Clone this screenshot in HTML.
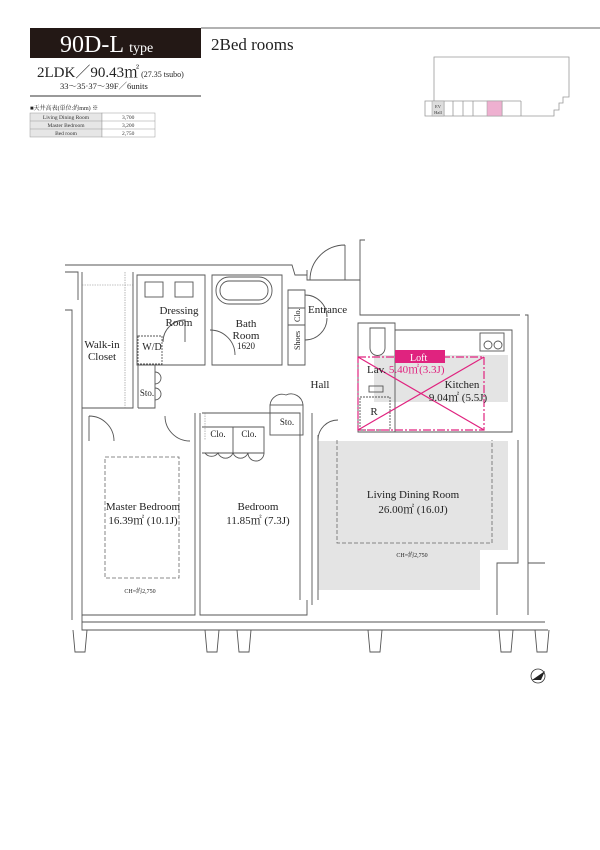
<!DOCTYPE html>
<html><head><meta charset="utf-8"><style>
body{margin:0;background:#fff;}
svg{display:block;font-family:"Liberation Serif","Noto Serif CJK SC",serif;}
</style></head><body>
<svg width="600" height="850" viewBox="0 0 600 850" xmlns="http://www.w3.org/2000/svg">
<!-- header -->
<rect x="30" y="28" width="171" height="30" fill="#231815"/>
<text x="60" y="52" font-size="24" fill="#fff">90D-L <tspan font-size="14">type</tspan></text>
<line x1="201" y1="28" x2="600" y2="28" stroke="#666" stroke-width="1"/>
<text x="211" y="50" font-size="17" fill="#222">2Bed rooms</text>
<text x="37" y="77" font-size="15" fill="#222">2LDK／90.43㎡<tspan font-size="8"> (27.35 tsubo)</tspan></text>
<text x="60" y="89" font-size="8.5" fill="#222">33〜35·37〜39F／6units</text>
<line x1="30" y1="96" x2="201" y2="96" stroke="#333" stroke-width="1"/>
<text x="30" y="110" font-size="6" fill="#222">■天井高表(単位:約mm) ※</text>
<g font-size="5.5" fill="#333" stroke-width="0.5">
<rect x="30" y="113" width="72" height="24" fill="#e6e6e6" stroke="#999"/>
<rect x="102" y="113" width="53" height="24" fill="#fff" stroke="#999"/>
<line x1="30" y1="121" x2="155" y2="121" stroke="#999"/>
<line x1="30" y1="129" x2="155" y2="129" stroke="#999"/>
<text x="66" y="119" text-anchor="middle">Living Dining Room</text>
<text x="66" y="127" text-anchor="middle">Master Bedroom</text>
<text x="66" y="135" text-anchor="middle">Bed room</text>
<text x="122" y="119">3,700</text><text x="122" y="127">3,200</text><text x="122" y="135">2,750</text>
</g>
<!-- keyplan -->
<g stroke="#999" stroke-width="0.8" fill="none">
<path d="M434 57 H569 V97 H563 V103 H559 V110 H554 V116 H425 V101 H434 Z"/>
<line x1="434" y1="101" x2="521" y2="101"/><line x1="521" y1="101" x2="521" y2="116"/>
<line x1="444" y1="101" x2="444" y2="116"/><line x1="453" y1="101" x2="453" y2="116"/><line x1="463" y1="101" x2="463" y2="116"/><line x1="473" y1="101" x2="473" y2="116"/><line x1="502" y1="101" x2="502" y2="116"/>
</g>
<rect x="432" y="101" width="12" height="15" fill="#ddd" stroke="#999" stroke-width="0.5"/>
<text x="438" y="108" font-size="4.5" text-anchor="middle" fill="#333">EV</text>
<text x="438" y="114" font-size="4.5" text-anchor="middle" fill="#333">Hall</text>
<rect x="487" y="101" width="15" height="15" fill="#eeb0d0" stroke="#999" stroke-width="0.5"/>

<!-- floor plan -->
<rect x="318" y="441" width="190" height="109" fill="#e4e4e4"/>
<rect x="318" y="550" width="162" height="40" fill="#e4e4e4"/>
<rect x="374" y="355" width="134" height="47" fill="#e4e4e4"/>
<g stroke="#555" stroke-width="0.9" fill="none">
<!-- outer walls -->
<path d="M65 265 H292 L295 275 H307"/>
<path d="M65 272 H78 V300 M65 310 H72 V620"/>
<path d="M82 272 V615 H195 V413 M200 413 V615 H307 V600"/>
<path d="M133 272 V408 H82"/>
<path d="M137 275 H205 V365 H137 Z"/>
<path d="M212 275 H282 V365 H212 Z"/>
<rect x="216" y="277" width="56" height="27" rx="13"/>
<rect x="220" y="281" width="48" height="19" rx="9"/>
<rect x="145" y="282" width="18" height="15"/><rect x="175" y="282" width="18" height="15"/>
<rect x="138" y="336" width="24" height="28" stroke-dasharray="2 1"/>
<path d="M138 365 V408 M138 365 H155 V408 H138"/>
<path d="M288 290 H305 V365 H288 Z M288 308 H305 M288 325 H305"/>
<path d="M307 270 V280 H360 V240 H365"/>
<path d="M360 280 V315 H520 M525 315 H528 V615"/>
<path d="M358 323 H395 V432 H358 Z"/>
<path d="M395 330 H512 V432 H395"/>
<rect x="480" y="333" width="24" height="18"/>
<circle cx="488" cy="345" r="4"/><circle cx="498" cy="345" r="4"/>
<path d="M370 328 h15 v20 a7 7 0 0 1 -15 0 z"/>
<rect x="369" y="386" width="14" height="6"/>
<rect x="360" y="397" width="30" height="33" stroke-dasharray="2 1"/>
<rect x="270" y="405" width="33" height="30"/>
<path d="M202 413 H300 V600"/>
<path d="M202 427 H264 V453 H202 M233 427 V453"/>
<path d="M312 413 V605 M318 435 V600"/>
<path d="M82 615 V630 H548 M82 622 H545"/>
<path d="M73 630 L75 652 H85 L87 630 M205 630 L207 652 H217 L219 630 M237 630 L239 652 H249 L251 630 M368 630 L370 652 H380 L382 630 M499 630 L501 652 H511 L513 630 M535 630 L537 652 H547 L549 630"/>
<path d="M497 615 V563 H518 V440 M545 563 H528"/>
<!-- door arcs -->
<path d="M310 280 A35 35 0 0 1 345 245 M345 245 V280"/>
<path d="M89 416 A25 25 0 0 1 114 441 M89 416 V441"/>
<path d="M165 416 A25 25 0 0 0 190 441"/>
<path d="M163 342 A22 22 0 0 1 185 320 V342"/>
<path d="M210 330 A25 25 0 0 1 235 355"/>
<path d="M305 295 A22 22 0 0 1 327 317 M305 340 A22 22 0 0 0 327 318"/>
<path d="M270 405 A12 12 0 0 1 286 395 A12 12 0 0 1 303 405"/>
<path d="M205 453 A8 8 0 0 0 218 453 A8 8 0 0 0 233 453 A8 8 0 0 0 248 453 A8 8 0 0 0 264 453"/>
<path d="M318 440 A20 20 0 0 1 338 420"/>
<path d="M155 372 a6 6 0 0 1 0 12 M155 388 a6 6 0 0 1 0 12"/>
</g>
<g stroke="#666" stroke-width="0.8" fill="none" stroke-dasharray="4 2">
<rect x="105" y="457" width="74" height="121"/>
<path d="M337 440 V543 H492 V440"/>
</g>
<g stroke="#888" stroke-width="0.6" fill="none" stroke-dasharray="1.5 1">
<path d="M125 272 V408 M82 285 H133 M205 413 V440"/>
</g>
<!-- loft -->
<g stroke="#e0237f" stroke-width="1.2" fill="none">
<rect x="358" y="357" width="126" height="73" stroke-dasharray="8 2 2 2"/>
<line x1="358" y1="357" x2="484" y2="430"/><line x1="484" y1="357" x2="358" y2="430"/>
</g>
<rect x="395" y="350" width="50" height="13" fill="#e0237f"/>
<g font-size="11" fill="#222">
<text x="410" y="361" fill="#fff" font-size="10">Loft</text>
<text x="179" y="314" text-anchor="middle">Dressing</text>
<text x="179" y="326" text-anchor="middle">Room</text>
<text x="152" y="350" text-anchor="middle" font-size="10">W/D</text>
<text x="246" y="327" text-anchor="middle">Bath</text>
<text x="246" y="339" text-anchor="middle">Room</text>
<text x="246" y="349" text-anchor="middle" font-size="9">1620</text>
<text x="102" y="348" text-anchor="middle">Walk-in</text>
<text x="102" y="360" text-anchor="middle">Closet</text>
<text x="147" y="396" text-anchor="middle" font-size="9">Sto.</text>
<text x="287" y="425" text-anchor="middle" font-size="9">Sto.</text>
<text x="218" y="437" text-anchor="middle" font-size="9">Clo.</text>
<text x="249" y="437" text-anchor="middle" font-size="9">Clo.</text>
<text x="308" y="313">Entrance</text>
<text x="300" y="350" font-size="8" transform="rotate(-90 300 350)">Shoes</text>
<text x="300" y="322" font-size="8" transform="rotate(-90 300 322)">Clo.</text>
<text x="320" y="388" text-anchor="middle">Hall</text>
<text x="367" y="373">Lav. <tspan fill="#e0237f">5.40㎡(3.3J)</tspan></text>
<text x="462" y="388" text-anchor="middle">Kitchen</text>
<text x="458" y="401" text-anchor="middle">9.04㎡ (5.5J)</text>
<text x="374" y="415" text-anchor="middle">R</text>
<text x="143" y="510" text-anchor="middle">Master Bedroom</text>
<text x="143" y="524" text-anchor="middle">16.39㎡ (10.1J)</text>
<text x="258" y="510" text-anchor="middle">Bedroom</text>
<text x="258" y="524" text-anchor="middle">11.85㎡ (7.3J)</text>
<text x="413" y="498" text-anchor="middle">Living Dining Room</text>
<text x="413" y="513" text-anchor="middle">26.00㎡ (16.0J)</text>
<text x="140" y="593" text-anchor="middle" font-size="6">CH=約2,750</text>
<text x="412" y="557" text-anchor="middle" font-size="6">CH=約2,750</text>
</g>
<circle cx="538" cy="676" r="7" fill="none" stroke="#333" stroke-width="0.8"/>
<path d="M532 680 L545 671 L541 680 Z" fill="#222"/>
</svg>
</body></html>
